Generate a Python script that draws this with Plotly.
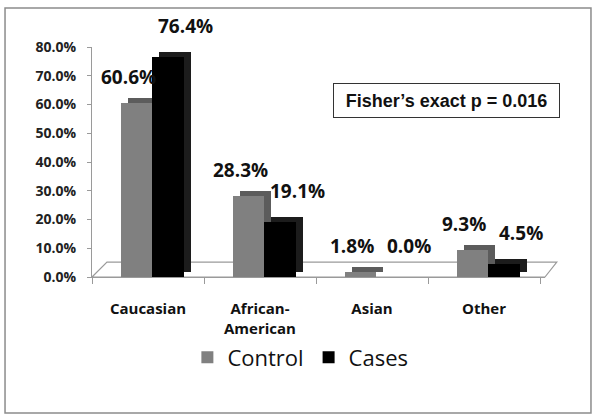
import plotly.graph_objects as go

# ---------------------------------------------------------------------------
# Data
# ---------------------------------------------------------------------------
categories = ["Caucasian", "African-<br>American", "Asian", "Other"]
control = [60.6, 28.3, 1.8, 9.3]
cases = [76.4, 19.1, 0.0, 4.5]
series_names = ["Control", "Cases"]
y_ticks = [0, 10, 20, 30, 40, 50, 60, 70, 80]
note_text = "Fisher’s exact p = 0.016"

# ---------------------------------------------------------------------------
# Style
# ---------------------------------------------------------------------------
FRONT = {"Control": "#808080", "Cases": "#000000"}
SIDE = {"Control": "#5c5c5c", "Cases": "#1c1c1c"}
OFFSET = {"Control": -0.24, "Cases": 0.04}
LABEL_SHIFT = {"Control": (-20, 26), "Cases": (37, 31)}
BAR_W = 0.28
DEPTH_X = 0.06
DEPTH_Y = 1.7
FONT = "Open Sans, Lato, sans-serif"

fig = go.Figure()

for name, vals in zip(series_names, [control, cases]):
    # fake 3D: darker block shifted up/right, drawn behind the front face
    fig.add_trace(go.Bar(
        x=categories, y=vals, base=DEPTH_Y,
        width=BAR_W, offset=OFFSET[name] + DEPTH_X,
        marker=dict(color=SIDE[name], line=dict(width=0)),
        showlegend=False, hoverinfo="skip",
    ))
    fig.add_trace(go.Bar(
        x=categories, y=vals, name=name,
        width=BAR_W, offset=OFFSET[name],
        marker=dict(color=FRONT[name], line=dict(width=0)),
    ))
    dx, dy = LABEL_SHIFT[name]
    for cat, v in zip(categories, vals):
        fig.add_annotation(
            x=cat, y=v, text=f"{v:.1f}%", showarrow=False,
            xshift=dx, yshift=dy, xanchor="center", yanchor="middle",
            font=dict(family=FONT, size=19, color="#111111", weight="bold"),
        )

# 3D floor of the plot
fig.add_shape(
    type="path", xref="paper", yref="paper", layer="below",
    path="M 0,0 L 0.033,0.065 L 1.026,0.065 L 1.0,0 Z",
    line=dict(color="#9a9a9a", width=1.2), fillcolor="white",
)

# outer frame
fig.add_shape(
    type="rect", xref="paper", yref="paper",
    x0=-0.192, x1=1.1015, y0=-0.591, y1=1.1696,
    line=dict(color="#8c8c8c", width=1.5),
)

fig.add_annotation(
    x=0.7826, y=0.767, xref="paper", yref="paper",
    xanchor="center", yanchor="middle",
    text=f"<b>{note_text}</b>", showarrow=False,
    width=225, height=33, borderpad=0,
    bordercolor="#333333", borderwidth=1, bgcolor="white",
    font=dict(family="Liberation Sans, Arial, sans-serif", size=18, color="#111111"),
)

fig.update_layout(
    width=600, height=420,
    margin=dict(l=92, r=55, t=47, b=143),
    paper_bgcolor="white", plot_bgcolor="white",
    barmode="overlay", bargap=0,
    legend=dict(
        orientation="h", x=0.46, xanchor="center", y=-0.35, yanchor="middle",
        font=dict(family=FONT, size=22, color="#111111"),
        itemwidth=30, tracegroupgap=0,
    ),
)

fig.update_xaxes(
    automargin=False,
    showgrid=False, showline=True, linecolor="#9a9a9a", linewidth=1,
    ticks="outside", tickson="boundaries", ticklen=6, tickcolor="#9a9a9a",
    ticklabelstandoff=18,
    tickfont=dict(family=FONT, size=15, color="#111111", weight="bold"),
)
fig.update_yaxes(
    automargin=False,
    range=[0, 80], tickvals=y_ticks, ticktext=[f"{t:.1f}%" for t in y_ticks],
    showgrid=False, zeroline=False, showline=True, linecolor="#9a9a9a",
    ticks="outside", ticklen=4, tickcolor="#9a9a9a", ticklabelstandoff=8,
    tickfont=dict(family=FONT, size=14, color="#222222", weight="bold"),
)

# the page body has a default 8px margin; drop it so the chart sits at 0,0
fig.write_html(
    "out.html",
    config={"displayModeBar": False},
    post_script="document.body.style.margin='0';",
)
